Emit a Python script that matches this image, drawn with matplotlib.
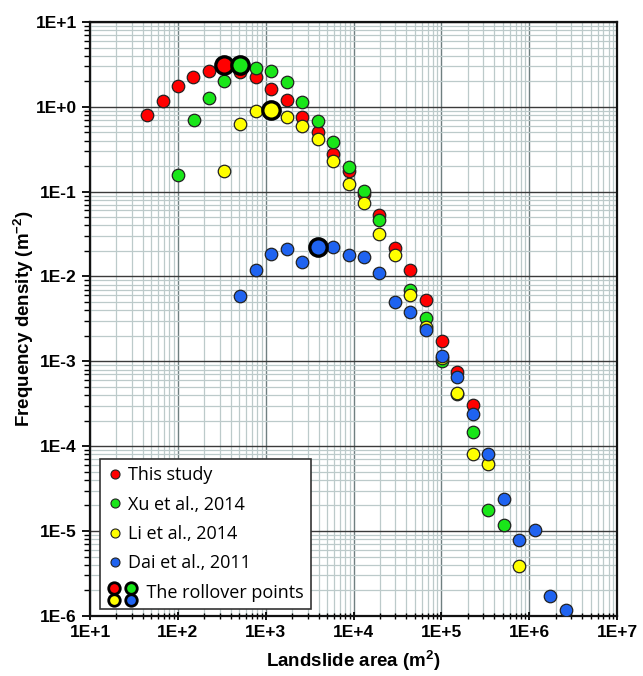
import numpy as np
import matplotlib
matplotlib.use("Agg")
import matplotlib.pyplot as plt
from matplotlib.lines import Line2D
from matplotlib.legend_handler import HandlerBase

plt.rcParams['font.family'] = ['Liberation Sans', 'DejaVu Sans']
plt.rcParams['mathtext.fontset'] = 'custom'
plt.rcParams['mathtext.bf'] = 'Liberation Sans:bold'
plt.rcParams['mathtext.rm'] = 'Liberation Sans'

# bin centres (m2)
this_x = [44, 67, 100, 150, 227, 339, 510, 769, 1148, 1733, 2590, 3890, 5870, 8770,
          13100, 19700, 29800, 44500, 67000, 100700, 150600, 227000]
this_y = [0.81, 1.18, 1.77, 2.26, 2.67, 3.07, 2.55, 2.22, 1.62, 1.19, 0.76, 0.51, 0.277, 0.173,
          0.094, 0.0534, 0.0218, 0.012, 0.0053, 0.00173, 7.4e-4, 3.07e-4]

xu_x = [100, 151, 227, 339, 510, 769, 1148, 1733, 2590, 3890, 5870, 8770, 13100, 19700,
        44500, 67000, 100700, 150600, 227000, 340000, 510000]
xu_y = [0.155, 0.69, 1.27, 2.01, 3.07, 2.84, 2.61, 1.98, 1.14, 0.68, 0.38, 0.197, 0.1025, 0.0467,
        0.0069, 0.0032, 0.00102, 4.1e-4, 1.48e-4, 1.77e-5, 1.18e-5]

li_x = [339, 510, 769, 1148, 1733, 2590, 3890, 5870, 8770, 13100, 19700, 29800, 44500,
        67000, 100700, 150600, 227000, 340000, 770000]
li_y = [0.176, 0.627, 0.90, 0.925, 0.76, 0.60, 0.417, 0.231, 0.124, 0.0726, 0.0313, 0.0179, 0.0061,
        0.00257, 0.0011, 4.2e-4, 8.0e-5, 6.2e-5, 3.9e-6]

dai_x = [510, 769, 1148, 1733, 2590, 3890, 5870, 8770, 13100, 19700, 29800, 44500, 67000,
         100700, 150600, 227000, 340000, 510000, 770000, 1150000, 1730000, 2600000]
dai_y = [0.0059, 0.0118, 0.0184, 0.021, 0.015, 0.0224, 0.0222, 0.0179, 0.017, 0.0111, 0.00504,
         0.0038, 0.00236, 0.00117, 6.6e-4, 2.4e-4, 8.0e-5, 2.37e-5, 7.8e-6, 1.04e-5, 1.73e-6, 1.16e-6]

# rollover points: index into each series
roll_idx = {'this': 5, 'xu': 4, 'li': 3, 'dai': 5}

c_red = '#ff0000'
c_green = '#19e619'
c_yellow = '#ffff00'
c_blue = '#1f63f0'

series = [
    ('This study', this_x, this_y, c_red, 'this'),
    ('Xu et al., 2014', xu_x, xu_y, c_green, 'xu'),
    ('Li et al., 2014', li_x, li_y, c_yellow, 'li'),
    ('Dai et al., 2011', dai_x, dai_y, c_blue, 'dai'),
]


class RolloverHandler(HandlerBase):
    # 2x2 block of thick-edged circles
    def create_artists(self, legend, orig_handle, xdescent, ydescent, width, height, fontsize, trans):
        arts = []
        cols = [c_red, c_green, c_yellow, c_blue]
        xc = width / 2 - xdescent
        yc = height / 2 - ydescent
        offs = [(-0.8, 2.6), (11.2, 2.6), (-0.8, -6.3), (11.2, -6.3)]
        for (dx, dy), c in zip(offs, cols):
            ln = Line2D([xc + dx], [yc + dy], marker='o', ms=8.3, mfc=c, mec='black', mew=2.0,
                        ls='none', transform=trans)
            arts.append(ln)
        return arts


fig = plt.figure(figsize=(6.43, 6.76), dpi=100)
ax = fig.add_axes([0.14, 0.089, 0.8196, 0.8785])
ax.set_xscale('log')
ax.set_yscale('log')
ax.set_xlim(1e1, 1e7)
ax.set_ylim(1e-6, 1e1)

ax.grid(True, which='minor', color='#bccaca', lw=0.9)
ax.grid(True, which='major', axis='x', color='#6f7f80', lw=1.0)
ax.grid(True, which='major', axis='y', color='#3a3a3a', lw=1.0)
ax.set_axisbelow(True)

for name, xs, ys, col, key in series:
    ax.plot(xs, ys, 'o', ms=9, mfc=col, mec='#222222', mew=0.9, ls='none', label=name, zorder=3)

for name, xs, ys, col, key in series:
    i = roll_idx[key]
    ax.plot([xs[i]], [ys[i]], 'o', ms=12.5, mfc=col, mec='black', mew=2.4, zorder=5)

leg_handles = []
for name, xs, ys, col, key in series:
    leg_handles.append(Line2D([], [], marker='o', ms=6.5, mfc=col, mec='#222222', mew=0.8, ls='none'))
roll_handle = object()
leg = ax.legend(leg_handles + [roll_handle],
                [s[0] for s in series] + ['    The rollover points'],
                handler_map={roll_handle: RolloverHandler()},
                loc='lower left', bbox_to_anchor=(-0.0115, -0.0165),
                frameon=True, fancybox=False, edgecolor='#333333', framealpha=1,
                labelspacing=0.63, handlelength=0.8, handletextpad=0.3, borderpad=0.42,
                borderaxespad=0.9,
                prop={'family': ['Open Sans', 'DejaVu Sans'], 'size': 13})
leg.get_frame().set_linewidth(1.2)

ax.set_xticks([10.0 ** k for k in range(1, 8)])
ax.set_yticks([10.0 ** k for k in range(-6, 2)])
ax.set_xticklabels(['1E+%d' % k for k in range(1, 8)])
ax.set_yticklabels(['1E%+d' % k for k in range(-6, 2)])
ax.tick_params(axis='both', which='major', labelsize=12.5, width=1.3, length=6)
ax.tick_params(axis='x', which='both', direction='inout')
ax.tick_params(axis='y', which='both', direction='out')
ax.tick_params(axis='both', which='minor', width=1.0, length=4)
for lbl in ax.get_xticklabels() + ax.get_yticklabels():
    lbl.set_fontweight('bold')

for sp in ax.spines.values():
    sp.set_linewidth(1.6)
    sp.set_color('#111111')

ax.set_xlabel('Landslide area (m$^\\mathbf{2}$)', fontsize=13.5, fontweight='bold', labelpad=6)
ax.set_ylabel('Frequency density (m$^\\mathbf{-2}$)', fontsize=13.5, fontweight='bold', labelpad=0)

fig.savefig('out.png', dpi=100)
